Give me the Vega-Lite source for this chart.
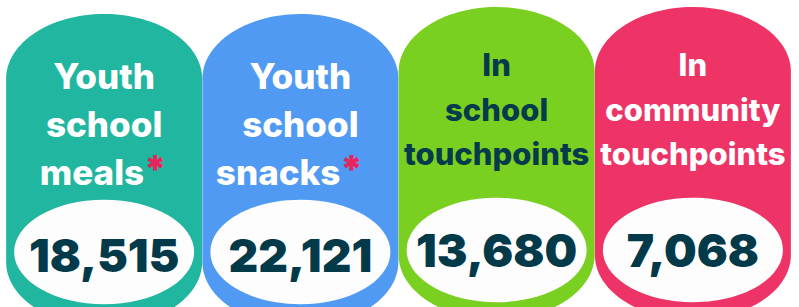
{
  "$schema": "https://vega.github.io/schema/vega-lite/v6.json",
  "width": 785,
  "height": 307,
  "autosize": {"type": "none"},
  "padding": {"left": 6, "top": 0, "right": 8, "bottom": 0},
  "background": "white",
  "config": {"view": {"stroke": null}},
  "data": {
    "values": [
      {"cat": "Youth school meals", "l1": "Youth", "l2": "school", "l3": "meals", "star": true, "value": 18515},
      {"cat": "Youth school snacks", "l1": "Youth", "l2": "school", "l3": "snacks", "star": true, "value": 22121},
      {"cat": "In school touchpoints", "l1": "In", "l2": "school", "l3": "touchpoints", "star": false, "value": 13680},
      {"cat": "In community touchpoints", "l1": "In", "l2": "community", "l3": "touchpoints", "star": false, "value": 7068}
    ]
  },
  "encoding": {
    "x": {"field": "cat", "type": "nominal", "sort": null, "scale": {"paddingInner": 0, "paddingOuter": 0}, "axis": null}
  },
  "layer": [
    {
      "mark": {"type": "point", "filled": true, "opacity": 1, "strokeWidth": 0, "size": 38416,
        "shape": "M -1 0.66 A 1 0.66 0 0 1 1 0.66 L 1 2.53 A 1 0.66 0 0 1 -1 2.53 Z"},
      "encoding": {
        "y": {"value": {"expr": "datum.star ? 14 : 7"}},
        "color": {"field": "cat", "type": "nominal", "legend": null,
          "scale": {"domain": ["Youth school meals", "Youth school snacks", "In school touchpoints", "In community touchpoints"],
                    "range": ["#21b6a0", "#519af3", "#7ad020", "#ee3466"]}}
      }
    },
    {
      "mark": {"type": "point", "filled": true, "opacity": 1, "strokeWidth": 0, "size": 32400, "color": "#fdfdfd",
        "shape": "M -1 0 A 1 0.58 0 1 1 1 0 A 1 0.58 0 1 1 -1 0 Z"},
      "encoding": {"y": {"value": {"expr": "datum.star ? 252 : 250"}}}
    },
    {
      "mark": {"type": "text", "font": "Inter", "fontWeight": 800, "baseline": "alphabetic", "align": "center"},
      "encoding": {
        "text": {"field": "l1"},
        "y": {"value": {"expr": "datum.star ? 89 : 76"}},
        "size": {"condition": {"test": "datum.star", "value": 35}, "value": 31},
        "color": {"condition": {"test": "datum.cat === 'In school touchpoints'", "value": "#053b4b"}, "value": "white"}
      }
    },
    {
      "mark": {"type": "text", "font": "Inter", "fontWeight": 800, "baseline": "alphabetic", "align": "center"},
      "encoding": {
        "text": {"field": "l2"},
        "y": {"value": {"expr": "datum.star ? 137 : 121"}},
        "size": {"condition": {"test": "datum.star", "value": 35}, "value": 31},
        "color": {"condition": {"test": "datum.cat === 'In school touchpoints'", "value": "#053b4b"}, "value": "white"}
      }
    },
    {
      "transform": [{"filter": "!datum.star"}],
      "mark": {"type": "text", "font": "Inter", "fontWeight": 800, "baseline": "alphabetic", "align": "center"},
      "encoding": {
        "text": {"field": "l3"},
        "y": {"value": 165},
        "size": {"value": 31},
        "color": {"condition": {"test": "datum.cat === 'In school touchpoints'", "value": "#053b4b"}, "value": "white"}
      }
    },
    {
      "transform": [{"filter": "datum.star"}],
      "mark": {"type": "text", "font": "Inter", "fontWeight": 800, "baseline": "alphabetic", "align": "right", "color": "white", "dx": 40},
      "encoding": {"text": {"field": "l3"}, "y": {"value": 185}, "size": {"value": 35}}
    },
    {
      "transform": [{"filter": "datum.star"}],
      "mark": {"type": "text", "font": "Inter", "fontWeight": 900, "baseline": "alphabetic", "align": "left", "color": "#e8245c", "dx": 39.5, "text": "*"},
      "encoding": {"y": {"value": 183}, "size": {"value": 38}}
    },
    {
      "mark": {"type": "text", "font": "Inter", "fontWeight": 900, "baseline": "alphabetic", "align": "center", "color": "#033a4a"},
      "encoding": {
        "text": {"field": "value", "type": "quantitative", "format": ","},
        "y": {"value": {"expr": "datum.star ? 272 : 267"}},
        "size": {"value": 46}
      }
    }
  ]
}
